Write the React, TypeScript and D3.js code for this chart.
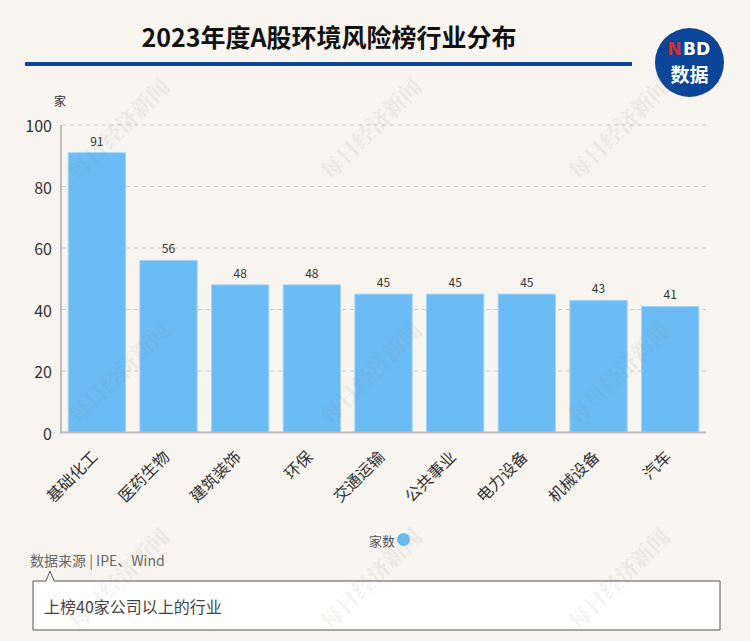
import React from "react";
import * as d3 from "d3";

const categories = ["基础化工", "医药生物", "建筑装饰", "环保", "交通运输", "公共事业", "电力设备", "机械设备", "汽车"];
const values = [91, 56, 48, 48, 45, 45, 45, 43, 41];
const yTicks = [0, 20, 40, 60, 80, 100];
const title = "2023年度A股环境风险榜行业分布";
const unitLabel = "家";
const legendLabel = "家数";
const sourceText = "数据来源 | IPE、Wind";
const noteText = "上榜40家公司以上的行业";
const watermarkText = "每日经济新闻";

const W = 750;
const H = 641;
const FONT = "'Noto Sans CJK SC', 'Noto Sans', sans-serif";
const BAR = "#6bbbf5";

export default function App() {
  const x = d3.scaleBand<string>().domain(categories).range([61, 706]).paddingInner(0.2).paddingOuter(0.1);
  const y = d3.scaleLinear().domain([0, 100]).range([432.5, 125]);

  const wmX = [118, 370, 618];
  const wmY = [128, 372, 578];

  return (
    <svg width={W} height={H} style={{ position: "absolute", left: 0, top: 0, display: "block" }} fontFamily={FONT}>
      <rect x={0} y={0} width={W} height={H} fill="#f8f5f0" />

      {/* title */}
      <text x={329} y={47} textAnchor="middle" fontSize={25} fontWeight="bold" fill="#111">
        {title}
      </text>
      <rect x={25} y={62} width={607} height={4} fill="#0b4597" />

      {/* logo */}
      <circle cx={689.5} cy={62.5} r={34.5} fill="#0b4597" />
      <text x={681.5} y={55} textAnchor="end" fontSize={17} fontWeight="bold" fill="#e6252b" fontFamily="'DejaVu Sans', Arial, sans-serif">
        N
      </text>
      <text x={683} y={55} textAnchor="start" fontSize={17} fontWeight="bold" fill="#fff" fontFamily="'DejaVu Sans', Arial, sans-serif">
        BD
      </text>
      <text x={689.5} y={82} textAnchor="middle" fontSize={19} fontWeight="bold" fill="#fff">
        数据
      </text>

      {/* gridlines */}
      {yTicks.filter((t) => t > 0).map((t) => (
        <line key={t} x1={62} x2={706} y1={y(t)} y2={y(t)} stroke="#cfcccc" strokeWidth={1} strokeDasharray="4,4" />
      ))}

      {/* unit */}
      <text x={60} y={106} textAnchor="middle" fontSize={12} fill="#333">
        {unitLabel}
      </text>

      {/* y ticks */}
      {yTicks.map((t) => (
        <text key={t} x={52} y={y(t)} textAnchor="end" dominantBaseline="central" fontSize={16} fill="#333">
          {t}
        </text>
      ))}

      {/* bars */}
      {categories.map((c, i) => (
        <g key={c}>
          <rect
            x={x(c)!}
            y={y(values[i])}
            width={x.bandwidth()}
            height={y(0) - y(values[i])}
            fill={BAR}
            stroke="#a3d5f9"
            strokeWidth={1}
          />
          <text x={x(c)! + x.bandwidth() / 2} y={y(values[i]) - 7} textAnchor="middle" fontSize={12} fill="#333">
            {values[i]}
          </text>
          <text
            transform={`translate(${x(c)! + x.bandwidth() / 2 - 3},${453}) rotate(-45)`}
            textAnchor="end"
            dominantBaseline="central"
            fontSize={16}
            fill="#333"
          >
            {c}
          </text>
        </g>
      ))}

      {/* axes */}
      <line x1={61} x2={61} y1={125} y2={433.5} stroke="#bdbdbd" strokeWidth={2} />
      <line x1={60} x2={706} y1={432.5} y2={432.5} stroke="#bdbdbd" strokeWidth={2} />

      {/* legend */}
      <text x={395} y={540} textAnchor="end" dominantBaseline="central" fontSize={13} fill="#555">
        {legendLabel}
      </text>
      <circle cx={403.5} cy={539.5} r={6.5} fill={BAR} />

      {/* source */}
      <text x={30} y={566} fontSize={14} fill="#666">
        {sourceText}
      </text>

      {/* note box */}
      <path
        d="M33,581 L46,581 L50,571 L54,581 L720,581 L720,630 L33,630 Z"
        fill="#fff"
        stroke="#555"
        strokeWidth={1}
      />
      <text x={44} y={613} fontSize={16} fill="#444">
        {noteText}
      </text>

      {/* watermarks on top */}
      <g pointerEvents="none">
        {wmY.map((wy) =>
          wmX.map((wx) => (
            <text
              key={`${wx}-${wy}`}
              transform={`translate(${wx},${wy}) rotate(-45)`}
              textAnchor="middle"
              dominantBaseline="central"
              fontSize={22}
              fontWeight="bold"
              fill="#8a8680"
              opacity={0.1}
              fontFamily="'Noto Serif CJK SC', 'Noto Sans CJK SC', serif"
            >
              {watermarkText}
            </text>
          ))
        )}
      </g>
    </svg>
  );
}
